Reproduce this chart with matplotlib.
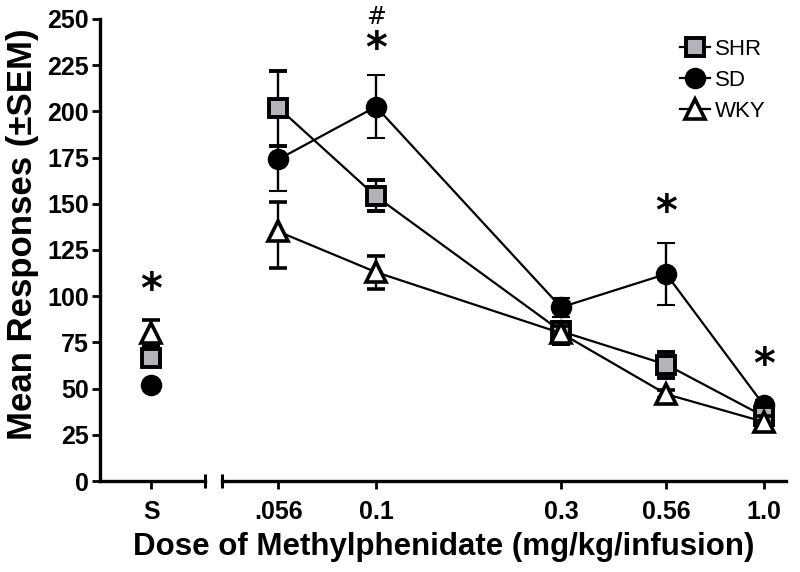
import matplotlib
matplotlib.use('Agg')
import matplotlib.pyplot as plt
from matplotlib.lines import Line2D

plt.rcParams['font.family'] = ['Liberation Sans', 'DejaVu Sans']

# doses (mg/kg/infusion) and tick labels
doses = [0.056, 0.1, 0.3, 0.56, 1.0]
dose_labels = ['.056', '0.1', '0.3', '0.56', '1.0']

# mean responses with lower / upper SEM as drawn
shr_mean = [202, 154, 81, 63, 35]
shr_lo = [21, 8, 7, 7, 3]
shr_hi = [20, 9, 5, 7, 3]

sd_mean = [174, 202.5, 94, 112, 41]
sd_lo = [17, 17, 5, 17, 3]
sd_hi = [7, 17, 5, 17, 3]

wky_mean = [135, 113, 80, 47, 32]
wky_lo = [20, 9, 6, 2, 4]
wky_hi = [16, 9, 4, 2, 3]

# saline
saline_mean = {'SHR': 66.5, 'SD': 52, 'WKY': 80}
saline_err = {'SHR': 4, 'SD': 0, 'WKY': 7}

# significance marks
star_doses = [0.1, 0.56, 1.0]
star_y = [233, 145, 62]
saline_star_y = 103
hash_dose = 0.1
hash_y = 251

fig = plt.figure(figsize=(8, 5.72), dpi=100)
ax1 = fig.add_axes([0.125, 0.159, 0.131, 0.808])
ax2 = fig.add_axes([0.2775, 0.159, 0.705, 0.808], sharey=ax1)

styles = {
    'SD': dict(marker='o', ms=14, mfc='black', mec='black', mew=1.5),
    'SHR': dict(marker='s', ms=13, mfc='#b3b3ba', mec='black', mew=2.8),
    'WKY': dict(marker='^', ms=14, mfc='white', mec='black', mew=2.6),
}
series = [('SD', sd_mean, sd_lo, sd_hi),
          ('SHR', shr_mean, shr_lo, shr_hi),
          ('WKY', wky_mean, wky_lo, wky_hi)]

for z, (name, m, lo, hi) in enumerate(series):
    ax2.errorbar(doses, m, yerr=[lo, hi], color='black', lw=1.6,
                 elinewidth=1.7, capsize=6.5, capthick=1.7,
                 zorder=3 + z, **styles[name])
    ax1.errorbar([0], [saline_mean[name]], yerr=[saline_err[name]],
                 color='black', lw=1.6, elinewidth=1.7, capsize=6.5,
                 capthick=1.7, zorder=3 + z, **styles[name])

ax2.set_xscale('log')
ax2.set_xlim(0.0401, 1.14)
ax2.set_xticks(doses)
ax2.set_xticklabels(dose_labels)
ax2.minorticks_off()

ax1.set_xlim(-0.515, 0.535)
ax1.set_xticks([0])
ax1.set_xticklabels(['S'])
ax1.set_ylim(0, 250)
ax1.set_yticks(range(0, 251, 25))

for ax in (ax1, ax2):
    ax.spines['top'].set_visible(False)
    ax.spines['right'].set_visible(False)
    for sp in ax.spines.values():
        sp.set_linewidth(2.4)
    ax.tick_params(width=2, length=6, labelsize=18)
    for lab in ax.get_xticklabels() + ax.get_yticklabels():
        lab.set_fontweight('bold')
ax2.spines['left'].set_visible(False)
ax2.tick_params(axis='y', left=False, labelleft=False)
ax1.tick_params(axis='x', pad=8)
ax2.tick_params(axis='x', pad=8)
ax1.tick_params(axis='y', pad=2)

# axis break caps
ax1.plot([1], [0], marker='|', ms=10, mew=2.2, color='black',
         transform=ax1.transAxes, clip_on=False)
ax2.plot([0], [0], marker='|', ms=10, mew=2.2, color='black',
         transform=ax2.transAxes, clip_on=False)

# significance marks
for d, y in zip(star_doses, star_y):
    ax2.text(d, y, '*', ha='center', va='center', fontsize=30,
             fontweight='bold', family='DejaVu Sans', clip_on=False)
ax1.text(0, saline_star_y, '*', ha='center', va='center', fontsize=30,
         fontweight='bold', family='DejaVu Sans', clip_on=False)
ax2.text(hash_dose, hash_y, '#', ha='center', va='center', fontsize=17,
         family='DejaVu Sans', clip_on=False)

ax1.set_ylabel('Mean Responses (\u00b1SEM)', fontsize=25, fontweight='bold')
ax1.yaxis.set_label_coords(-0.58, 0.535)
fig.text(0.555, 0.03, 'Dose of Methylphenidate (mg/kg/infusion)',
         ha='center', va='baseline', fontsize=22.5, fontweight='bold')

handles = [Line2D([], [], color='black', lw=1.6, **styles[n])
           for n in ['SHR', 'SD', 'WKY']]
ax2.legend(handles, ['SHR', 'SD', 'WKY'], loc='upper right', frameon=False,
           fontsize=16, handlelength=1.35, handletextpad=0.25,
           labelspacing=0.45, bbox_to_anchor=(1.0, 1.0))

fig.savefig('out.png', dpi=100)
